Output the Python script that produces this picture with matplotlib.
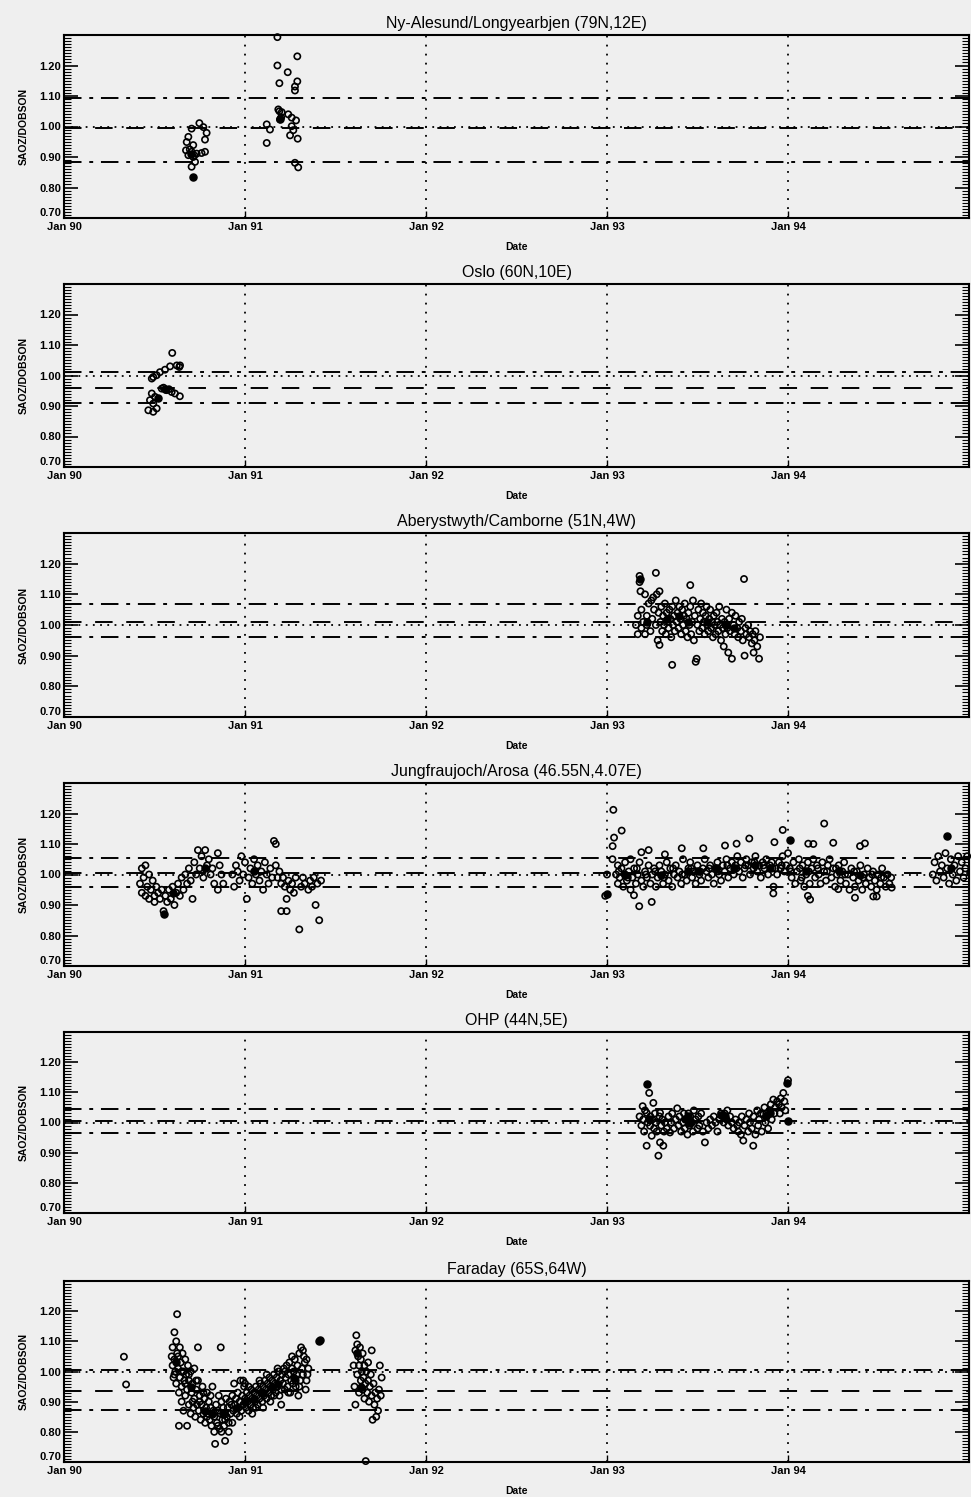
import matplotlib
matplotlib.use("Agg")
import matplotlib.pyplot as plt
from matplotlib.ticker import MultipleLocator

plt.rcParams['font.family'] = ['Liberation Sans', 'DejaVu Sans']

# station titles
titles = [
    "Ny-Alesund/Longyearbjen (79N,12E)",
    "Oslo (60N,10E)",
    "Aberystwyth/Camborne (51N,4W)",
    "Jungfraujoch/Arosa (46.55N,4.07E)",
    "OHP (44N,5E)",
    "Faraday (65S,64W)",
]

# reference lines: upper (dash-dot), mean (dashed), lower (dash-dot)
upper = [1.095, 1.012, 1.07, 1.055, 1.045, 1.005]
mean = [0.995, 0.96, 1.01, 1.005, 1.005, 0.937]
lower = [0.885, 0.91, 0.96, 0.96, 0.965, 0.873]

years = [1990, 1991, 1992, 1993, 1994]
year_labels = ["Jan 90", "Jan 91", "Jan 92", "Jan 93", "Jan 94"]

ny_alesund = [
    (1990.748, 1.011), (1990.705, 0.993), (1990.77, 0.998), (1990.788, 0.979),
    (1990.687, 0.966), (1990.779, 0.957), (1990.678, 0.949), (1990.714, 0.939),
    (1990.674, 0.922), (1990.705, 0.917), (1990.733, 0.911), (1990.76, 0.913),
    (1990.779, 0.917), (1990.687, 0.906), (1990.714, 0.900), (1990.724, 0.884),
    (1990.705, 0.868), (1990.72, 0.905), (1990.695, 0.925),
    (1991.179, 1.293), (1991.289, 1.230), (1991.179, 1.200), (1991.236, 1.178),
    (1991.19, 1.142), (1991.289, 1.148), (1991.276, 1.131), (1991.276, 1.118),
    (1991.184, 1.056), (1991.203, 1.047), (1991.239, 1.040), (1991.193, 1.023),
    (1991.258, 1.029), (1991.282, 1.020), (1991.12, 1.007), (1991.138, 0.99),
    (1991.258, 1.001), (1991.267, 0.988), (1991.249, 0.971), (1991.291, 0.960),
    (1991.12, 0.946), (1991.276, 0.881), (1991.294, 0.866), (1991.19, 1.05),
    (1991.2, 1.03),
]
ny_alesund_filled = [(1990.711, 0.835), (1991.195, 1.025), (1990.70, 0.91)]

oslo = [
    (1990.598, 1.074), (1990.586, 1.030), (1990.623, 1.033), (1990.637, 1.028),
    (1990.558, 1.019), (1990.53, 1.011), (1990.512, 1.001), (1990.493, 0.995),
    (1990.485, 0.99), (1990.54, 0.957), (1990.567, 0.952), (1990.595, 0.946),
    (1990.613, 0.941), (1990.485, 0.941), (1990.503, 0.93), (1990.475, 0.919),
    (1990.493, 0.908), (1990.466, 0.886), (1990.493, 0.881), (1990.512, 0.892),
    (1990.64, 0.932), (1990.641, 1.033), (1990.55, 0.96), (1990.58, 0.955),
]
oslo_filled = [(1990.56, 0.955), (1990.52, 0.925)]

aberystwyth = [
    (1993.16, 1.00), (1993.17, 0.97), (1993.17, 1.03), (1993.18, 1.16), (1993.18, 1.14),
    (1993.185, 1.11), (1993.19, 0.99), (1993.19, 1.05), (1993.20, 1.01), (1993.21, 0.97),
    (1993.21, 1.10), (1993.22, 1.03), (1993.22, 1.00), (1993.23, 1.07), (1993.24, 0.98),
    (1993.245, 1.08), (1993.25, 1.02), (1993.255, 1.09), (1993.26, 1.05), (1993.27, 1.17),
    (1993.27, 1.00), (1993.275, 1.10), (1993.28, 0.95), (1993.285, 1.04), (1993.29, 0.935),
    (1993.29, 1.11), (1993.295, 1.01), (1993.30, 1.06), (1993.305, 0.98), (1993.31, 1.03),
    (1993.315, 1.00), (1993.32, 1.07), (1993.325, 0.97), (1993.33, 1.04), (1993.335, 1.01),
    (1993.34, 0.99), (1993.345, 1.05), (1993.35, 1.02), (1993.355, 0.96), (1993.36, 0.87),
    (1993.36, 1.06), (1993.365, 1.00), (1993.37, 1.03), (1993.375, 0.98), (1993.38, 1.08),
    (1993.385, 1.01), (1993.39, 1.04), (1993.395, 0.99), (1993.40, 1.06), (1993.405, 1.02),
    (1993.41, 0.97), (1993.415, 1.05), (1993.42, 1.00), (1993.425, 1.03), (1993.43, 1.07),
    (1993.435, 0.98), (1993.44, 1.02), (1993.445, 0.96), (1993.45, 1.04), (1993.455, 1.00),
    (1993.46, 1.13), (1993.46, 1.06), (1993.465, 0.97), (1993.47, 1.01), (1993.475, 1.08),
    (1993.48, 0.95), (1993.485, 1.03), (1993.49, 0.88), (1993.495, 0.89), (1993.50, 1.00),
    (1993.505, 1.05), (1993.51, 0.98), (1993.515, 1.02), (1993.52, 1.07), (1993.525, 0.99),
    (1993.53, 1.04), (1993.535, 1.01), (1993.54, 0.97), (1993.545, 1.03), (1993.55, 1.06),
    (1993.555, 1.00), (1993.56, 0.98), (1993.565, 1.02), (1993.57, 1.05), (1993.575, 0.99),
    (1993.58, 1.01), (1993.585, 0.96), (1993.59, 1.03), (1993.595, 1.00), (1993.60, 0.97),
    (1993.605, 1.04), (1993.61, 1.01), (1993.615, 0.98), (1993.62, 1.06), (1993.625, 1.00),
    (1993.63, 0.95), (1993.635, 1.02), (1993.64, 0.99), (1993.645, 0.93), (1993.65, 1.01),
    (1993.655, 0.97), (1993.66, 1.05), (1993.665, 0.99), (1993.67, 0.91), (1993.675, 1.02),
    (1993.68, 0.98), (1993.69, 0.89), (1993.69, 1.04), (1993.70, 1.00), (1993.705, 0.97),
    (1993.71, 1.03), (1993.72, 0.99), (1993.725, 0.96), (1993.73, 1.01), (1993.74, 0.98),
    (1993.745, 1.02), (1993.75, 0.95), (1993.757, 1.15), (1993.76, 0.90), (1993.765, 0.99),
    (1993.77, 0.97), (1993.78, 1.00), (1993.785, 0.96), (1993.79, 0.98), (1993.80, 0.94),
    (1993.805, 0.97), (1993.81, 0.91), (1993.815, 0.95), (1993.82, 0.98), (1993.83, 0.93),
    (1993.84, 0.89), (1993.845, 0.96),
]
aberystwyth_filled = [(1993.18, 1.15), (1993.22, 1.01), (1993.33, 1.02), (1993.45, 1.01),
                      (1993.55, 1.01), (1993.66, 1.00), (1993.40, 1.03), (1993.70, 0.99)]

jungfraujoch = [
    # 1990-91
    (1990.42, 0.97), (1990.43, 1.02), (1990.43, 0.94), (1990.44, 0.99), (1990.45, 0.93),
    (1990.45, 1.03), (1990.46, 0.96), (1990.47, 0.92), (1990.47, 1.00), (1990.48, 0.95),
    (1990.49, 0.98), (1990.50, 0.93), (1990.50, 0.91), (1990.51, 0.96), (1990.52, 0.94),
    (1990.53, 0.92), (1990.54, 0.95), (1990.55, 0.88), (1990.56, 0.93), (1990.57, 0.91),
    (1990.58, 0.95), (1990.59, 0.92), (1990.60, 0.96), (1990.61, 0.90), (1990.62, 0.94),
    (1990.63, 0.97), (1990.64, 0.93), (1990.65, 0.99), (1990.66, 0.95), (1990.67, 1.00),
    (1990.68, 0.97), (1990.69, 1.02), (1990.70, 0.98), (1990.71, 0.92), (1990.72, 1.04),
    (1990.73, 1.00), (1990.74, 1.08), (1990.75, 1.02), (1990.76, 1.06), (1990.77, 0.99),
    (1990.78, 1.08), (1990.79, 1.03), (1990.80, 1.05), (1990.81, 1.00), (1990.82, 1.02),
    (1990.83, 0.97), (1990.85, 1.07), (1990.85, 0.95), (1990.86, 1.03), (1990.87, 1.00),
    (1990.88, 0.97), (1990.93, 1.00), (1990.94, 0.96), (1990.95, 1.03), (1990.96, 1.01),
    (1990.97, 0.98), (1990.98, 1.06), (1990.99, 1.00), (1991.00, 1.04), (1991.01, 0.92),
    (1991.02, 0.99), (1991.03, 1.02), (1991.04, 0.97), (1991.05, 1.05), (1991.06, 1.00),
    (1991.07, 1.03), (1991.08, 0.98), (1991.09, 1.01), (1991.10, 0.95), (1991.11, 1.04),
    (1991.12, 1.00), (1991.13, 0.97), (1991.14, 1.02), (1991.15, 0.99), (1991.16, 1.11),
    (1991.17, 1.10), (1991.17, 1.03), (1991.18, 0.99), (1991.19, 1.01), (1991.20, 0.97),
    (1991.20, 0.88), (1991.21, 0.99), (1991.22, 0.96), (1991.23, 0.88), (1991.23, 0.92),
    (1991.24, 0.98), (1991.25, 0.95), (1991.26, 0.97), (1991.27, 0.94), (1991.28, 0.99),
    (1991.30, 0.82), (1991.31, 0.96), (1991.32, 0.99), (1991.33, 0.97), (1991.35, 0.95),
    (1991.36, 0.98), (1991.37, 0.96), (1991.38, 0.99), (1991.39, 0.90), (1991.40, 0.97),
    (1991.41, 0.85), (1991.42, 0.98),
    # 1993-94
    (1992.99, 0.93), (1993.0, 1.00), (1993.03, 1.05), (1993.031, 1.093), (1993.035, 1.212),
    (1993.039, 1.121), (1993.081, 1.144),
    (1993.05, 1.00), (1993.06, 0.97), (1993.06, 1.03), (1993.07, 0.99), (1993.08, 1.02),
    (1993.09, 0.96), (1993.10, 1.00), (1993.10, 1.04), (1993.11, 0.98), (1993.12, 1.01),
    (1993.13, 0.95), (1993.13, 1.05), (1993.14, 0.99), (1993.15, 1.02), (1993.16, 0.97),
    (1993.17, 1.00), (1993.18, 1.04), (1993.19, 0.98), (1993.20, 0.96), (1993.21, 1.01),
    (1993.22, 0.99), (1993.23, 1.03), (1993.24, 0.97), (1993.25, 1.00), (1993.26, 1.02),
    (1993.27, 0.96), (1993.28, 0.99), (1993.29, 1.03), (1993.30, 1.01), (1993.31, 0.97),
    (1993.32, 1.00), (1993.33, 1.04), (1993.34, 0.98), (1993.35, 1.02), (1993.36, 0.96),
    (1993.37, 1.00), (1993.38, 1.03), (1993.39, 0.99), (1993.40, 1.01), (1993.41, 0.97),
    (1993.42, 1.05), (1993.43, 1.00), (1993.44, 0.98), (1993.45, 1.02), (1993.46, 1.04),
    (1993.47, 0.99), (1993.48, 1.01), (1993.49, 0.97), (1993.50, 1.03), (1993.51, 1.00),
    (1993.52, 0.98), (1993.53, 1.02), (1993.54, 1.05), (1993.55, 1.01), (1993.56, 0.99),
    (1993.57, 1.03), (1993.58, 1.00), (1993.59, 0.97), (1993.60, 1.02), (1993.61, 1.04),
    (1993.62, 1.00), (1993.63, 0.98), (1993.64, 1.03), (1993.65, 1.01), (1993.66, 1.05),
    (1993.67, 0.99), (1993.68, 1.02), (1993.69, 1.04), (1993.70, 1.00), (1993.71, 1.03),
    (1993.72, 1.06), (1993.73, 1.01), (1993.74, 1.04), (1993.75, 0.99), (1993.76, 1.02),
    (1993.77, 1.05), (1993.78, 1.03), (1993.79, 1.00), (1993.80, 1.04), (1993.81, 1.02),
    (1993.82, 1.06), (1993.83, 1.01), (1993.84, 1.03), (1993.85, 0.99), (1993.86, 1.04),
    (1993.87, 1.02), (1993.88, 1.05), (1993.89, 1.00), (1993.90, 1.03), (1993.91, 1.04),
    (1993.92, 0.96), (1993.93, 1.02), (1993.94, 1.00), (1993.95, 1.04), (1993.96, 1.02),
    (1993.97, 1.06), (1993.98, 1.01), (1993.99, 1.03), (1994.00, 1.07), (1994.01, 1.02),
    (1994.02, 0.99), (1994.03, 1.04), (1994.04, 0.97), (1994.05, 1.01), (1994.06, 1.05),
    (1994.07, 0.98), (1994.08, 1.03), (1994.09, 0.96), (1994.10, 1.00), (1994.11, 1.04),
    (1994.12, 0.97), (1994.13, 1.02), (1994.14, 1.05), (1994.15, 0.99), (1994.16, 1.03),
    (1994.17, 1.00), (1994.18, 0.97), (1994.19, 1.04), (1994.20, 1.01), (1994.21, 0.98),
    (1994.22, 1.03), (1994.23, 1.05), (1994.24, 0.99), (1994.25, 1.02), (1994.26, 0.96),
    (1994.27, 1.00), (1994.28, 1.03), (1994.29, 0.98), (1994.30, 1.01), (1994.31, 1.04),
    (1994.32, 0.97), (1994.33, 1.00), (1994.34, 0.95), (1994.35, 1.02), (1994.36, 0.99),
    (1994.37, 0.96), (1994.38, 1.01), (1994.39, 0.98), (1994.40, 1.03), (1994.41, 0.95),
    (1994.42, 1.00), (1994.43, 0.97), (1994.44, 1.02), (1994.45, 0.99), (1994.46, 0.96),
    (1994.47, 1.01), (1994.48, 0.98), (1994.49, 0.95), (1994.50, 1.00), (1994.51, 0.97),
    (1994.52, 1.02), (1994.53, 0.99), (1994.54, 0.96), (1994.55, 1.00), (1994.56, 0.97),
    (1994.57, 0.99),
    (1993.065, 1.01), (1993.115, 0.99), (1993.165, 1.02), (1993.215, 1.00), (1993.265, 1.01),
    (1993.315, 0.99), (1993.365, 1.02), (1993.415, 1.00), (1993.465, 1.02), (1993.515, 1.01),
    (1993.565, 1.02), (1993.615, 1.01), (1993.665, 1.03), (1993.715, 1.02), (1993.765, 1.03),
    (1993.815, 1.04), (1993.865, 1.03), (1993.915, 1.02), (1993.965, 1.03), (1994.015, 1.01),
    (1994.065, 1.02), (1994.115, 1.01), (1994.165, 1.02), (1994.215, 1.01), (1994.265, 1.02),
    (1994.315, 1.00), (1994.365, 1.01), (1994.415, 0.99), (1994.465, 1.00), (1994.515, 0.99),
    # outliers
    (1993.19, 1.073), (1993.23, 1.08), (1993.32, 1.066), (1993.413, 1.086), (1993.532, 1.086),
    (1993.652, 1.095), (1993.716, 1.101), (1993.786, 1.118), (1993.925, 1.106), (1993.971, 1.146),
    (1994.2, 1.167), (1994.112, 1.101), (1994.14, 1.10), (1994.25, 1.104), (1994.398, 1.093),
    (1994.425, 1.102), (1993.178, 0.896), (1993.247, 0.91), (1993.149, 0.932), (1993.919, 0.938),
    (1994.122, 0.918), (1994.11, 0.93), (1994.278, 0.952), (1994.37, 0.924), (1994.471, 0.928),
    (1994.49, 0.928), (1994.573, 0.957), (1994.076, 0.99),
    # late 1994
    (1994.80, 1.00), (1994.81, 1.04), (1994.82, 0.98), (1994.83, 1.06), (1994.84, 1.01),
    (1994.85, 1.03), (1994.86, 0.99), (1994.87, 1.07), (1994.88, 1.02), (1994.89, 0.97),
    (1994.90, 1.05), (1994.91, 1.00), (1994.92, 1.03), (1994.93, 0.98), (1994.94, 1.06),
    (1994.95, 1.01), (1994.96, 1.04), (1994.97, 0.99), (1994.98, 1.02), (1994.99, 1.06),
]
jungfraujoch_filled = [(1990.555, 0.87), (1993.0, 0.935), (1994.011, 1.113), (1994.88, 1.126),
                       (1993.45, 1.01), (1993.6, 1.02), (1993.82, 1.03), (1994.28, 1.01),
                       (1993.10, 1.00), (1993.30, 1.00), (1993.50, 1.01), (1993.70, 1.02),
                       (1993.90, 1.02), (1994.10, 1.01), (1994.40, 1.00), (1990.60, 0.94),
                       (1990.78, 1.02), (1991.05, 1.01), (1994.90, 1.02)]

ohp = [
    (1993.18, 1.02), (1993.19, 0.99), (1993.197, 1.054), (1993.20, 1.01), (1993.205, 0.97),
    (1993.21, 1.04), (1993.219, 1.032), (1993.219, 0.923), (1993.225, 1.00), (1993.233, 1.098),
    (1993.238, 0.989), (1993.24, 1.02), (1993.247, 0.956), (1993.25, 1.01), (1993.256, 1.065),
    (1993.26, 0.98), (1993.265, 1.03), (1993.27, 1.00), (1993.275, 0.97), (1993.284, 0.89),
    (1993.29, 1.02), (1993.293, 1.032), (1993.293, 0.934), (1993.30, 0.99), (1993.305, 1.01),
    (1993.311, 0.923), (1993.315, 0.97), (1993.32, 1.00), (1993.33, 0.98), (1993.34, 1.02),
    (1993.348, 0.967), (1993.355, 1.00), (1993.36, 1.03), (1993.37, 0.98), (1993.38, 1.01),
    (1993.388, 1.047), (1993.395, 0.99), (1993.40, 1.02), (1993.41, 0.97), (1993.42, 1.00),
    (1993.425, 1.03), (1993.43, 0.98), (1993.44, 1.01), (1993.445, 0.96), (1993.45, 1.03),
    (1993.455, 0.99), (1993.46, 1.02), (1993.47, 1.00), (1993.475, 0.97), (1993.48, 1.04),
    (1993.49, 1.01), (1993.50, 0.98), (1993.505, 1.02), (1993.51, 0.99), (1993.52, 1.03),
    (1993.53, 0.97), (1993.541, 0.934), (1993.55, 1.00), (1993.56, 0.98), (1993.57, 1.01),
    (1993.58, 0.99), (1993.59, 1.02), (1993.60, 1.00), (1993.61, 0.97), (1993.62, 1.01),
    (1993.63, 1.03), (1993.64, 1.02), (1993.645, 1.00), (1993.65, 1.03), (1993.66, 1.01),
    (1993.665, 1.04), (1993.67, 0.99), (1993.68, 1.02), (1993.69, 1.00), (1993.70, 0.98),
    (1993.71, 1.01), (1993.72, 0.99), (1993.725, 0.97), (1993.73, 1.00), (1993.74, 0.96),
    (1993.745, 1.02), (1993.753, 0.94), (1993.76, 0.99), (1993.77, 1.01), (1993.78, 0.97),
    (1993.785, 1.03), (1993.79, 1.00), (1993.80, 0.98), (1993.808, 0.923), (1993.81, 1.02),
    (1993.82, 0.96), (1993.83, 1.04), (1993.835, 0.99), (1993.84, 1.01), (1993.85, 1.03),
    (1993.855, 0.97), (1993.864, 1.027), (1993.87, 1.05), (1993.875, 1.00), (1993.88, 1.03),
    (1993.89, 0.98), (1993.90, 1.04), (1993.905, 1.06), (1993.91, 1.01), (1993.919, 1.076),
    (1993.925, 1.03), (1993.93, 1.05), (1993.94, 1.07), (1993.95, 1.06), (1993.955, 1.03),
    (1993.96, 1.08), (1993.965, 1.05), (1993.974, 1.098), (1993.98, 1.07), (1993.985, 1.04),
    (1994.0, 1.14),
]
ohp_filled = [(1993.219, 1.127), (1993.993, 1.131), (1994.0, 1.005), (1993.43, 1.01),
              (1993.45, 1.02), (1993.63, 1.025), (1993.65, 1.02), (1993.88, 1.02), (1993.90, 1.03),
              (1993.23, 1.01), (1993.46, 1.00)]

faraday = [
    (1990.331, 1.049), (1990.343, 0.957),
    (1990.595, 1.05), (1990.60, 1.02), (1990.60, 1.08), (1990.605, 0.98), (1990.61, 1.13),
    (1990.61, 1.04), (1990.615, 1.00), (1990.62, 1.10), (1990.62, 0.96), (1990.625, 1.19),
    (1990.625, 1.06), (1990.63, 1.01), (1990.635, 0.93), (1990.635, 0.82), (1990.64, 1.08),
    (1990.64, 0.98), (1990.645, 1.03), (1990.65, 0.95), (1990.65, 0.90), (1990.655, 1.06),
    (1990.66, 1.00), (1990.66, 0.87), (1990.665, 0.97), (1990.67, 1.04), (1990.67, 0.92),
    (1990.675, 0.99), (1990.68, 0.82), (1990.68, 0.94), (1990.685, 1.02), (1990.69, 0.89),
    (1990.69, 0.97), (1990.70, 1.00), (1990.70, 0.86), (1990.705, 0.93), (1990.71, 0.96),
    (1990.715, 0.88), (1990.72, 0.91), (1990.72, 1.01), (1990.725, 0.85), (1990.73, 0.94),
    (1990.735, 0.89), (1990.74, 1.08), (1990.74, 0.97), (1990.745, 0.87), (1990.75, 0.92),
    (1990.755, 0.84), (1990.76, 0.89), (1990.765, 0.95), (1990.77, 0.86), (1990.775, 0.91),
    (1990.78, 0.83), (1990.785, 0.88), (1990.79, 0.93), (1990.795, 0.86), (1990.80, 0.90),
    (1990.805, 0.84), (1990.81, 0.88), (1990.815, 0.82), (1990.82, 0.95), (1990.825, 0.87),
    (1990.83, 0.85), (1990.835, 0.76), (1990.84, 0.89), (1990.845, 0.83), (1990.85, 0.87),
    (1990.855, 0.92), (1990.86, 0.81), (1990.865, 0.86), (1990.866, 1.08), (1990.87, 0.90),
    (1990.875, 0.84), (1990.88, 0.88), (1990.885, 0.82), (1990.89, 0.77), (1990.89, 0.86),
    (1990.895, 0.91), (1990.90, 0.85), (1990.905, 0.88), (1990.91, 0.83), (1990.915, 0.90),
    (1990.92, 0.86), (1990.925, 0.89), (1990.93, 0.92), (1990.935, 0.87), (1990.94, 0.96),
    (1990.945, 0.89), (1990.95, 0.91), (1990.955, 0.86), (1990.96, 0.93), (1990.965, 0.88),
    (1990.97, 0.90), (1990.975, 0.97), (1990.98, 0.87), (1990.985, 0.92), (1990.99, 0.89),
    (1990.995, 0.95), (1991.00, 0.91), (1991.005, 0.88), (1991.01, 0.93), (1991.015, 0.90),
    (1991.02, 0.87), (1991.025, 0.92), (1991.03, 0.89), (1991.035, 0.94), (1991.04, 0.91),
    (1991.045, 0.88), (1991.05, 0.93), (1991.055, 0.90), (1991.06, 0.95), (1991.065, 0.92),
    (1991.07, 0.89), (1991.075, 0.94), (1991.08, 0.91), (1991.085, 0.96), (1991.09, 0.93),
    (1991.095, 0.90), (1991.10, 0.95), (1991.105, 0.92), (1991.11, 0.97), (1991.115, 0.94),
    (1991.12, 0.91), (1991.125, 0.96), (1991.13, 0.93), (1991.135, 0.98), (1991.14, 0.95),
    (1991.145, 0.92), (1991.15, 0.97), (1991.155, 0.94), (1991.16, 0.99), (1991.165, 0.96),
    (1991.17, 0.93), (1991.175, 0.98), (1991.18, 0.95), (1991.185, 1.00), (1991.19, 0.92),
    (1991.195, 0.97), (1991.20, 0.89), (1991.205, 0.99), (1991.21, 0.96), (1991.215, 1.01),
    (1991.22, 0.94), (1991.225, 0.98), (1991.23, 1.02), (1991.235, 0.95), (1991.24, 0.99),
    (1991.245, 1.03), (1991.25, 0.93), (1991.255, 0.97), (1991.26, 1.01), (1991.265, 0.96),
    (1991.27, 1.00), (1991.275, 1.04), (1991.28, 0.95), (1991.285, 0.99), (1991.29, 1.02),
    (1991.295, 0.92), (1991.30, 1.06), (1991.305, 0.97), (1991.31, 1.08), (1991.315, 1.01),
    (1991.32, 0.99), (1991.325, 1.05), (1991.33, 1.03), (1991.335, 0.94), (1991.34, 1.04),
    (1991.345, 0.99), (1991.35, 1.01),
    (1991.00, 0.96), (1991.02, 0.95), (1991.04, 0.86), (1991.06, 0.88), (1991.08, 0.97),
    (1991.10, 0.88), (1991.12, 0.99), (1991.14, 0.90), (1991.16, 0.92), (1991.18, 1.01),
    (1991.20, 0.94), (1991.22, 1.00), (1991.24, 0.93), (1991.26, 1.05), (1991.28, 0.97),
    (1991.30, 0.95), (1991.32, 1.07), (1991.34, 0.97), (1990.99, 0.97), (1990.97, 0.85),
    (1990.61, 0.99), (1990.63, 1.05), (1990.65, 1.00), (1990.67, 0.96), (1990.69, 0.99),
    (1990.71, 0.90), (1990.73, 0.97), (1990.75, 0.90), (1990.77, 0.93), (1990.79, 0.85),
    (1990.81, 0.92), (1990.83, 0.80), (1990.85, 0.82), (1990.87, 0.80), (1990.89, 0.84),
    (1990.91, 0.80), (1990.93, 0.83),
    (1991.60, 1.02), (1991.605, 0.95), (1991.61, 1.07), (1991.61, 0.89), (1991.615, 1.12),
    (1991.62, 1.09), (1991.62, 0.99), (1991.625, 1.05), (1991.63, 1.02), (1991.63, 0.93),
    (1991.635, 1.08), (1991.64, 0.97), (1991.64, 1.04), (1991.645, 1.00), (1991.65, 0.94),
    (1991.65, 1.06), (1991.655, 0.98), (1991.66, 1.02), (1991.66, 0.91), (1991.665, 0.96),
    (1991.667, 0.703), (1991.67, 1.00), (1991.675, 0.93), (1991.68, 0.97), (1991.68, 1.03),
    (1991.685, 0.90), (1991.69, 0.95), (1991.695, 0.99), (1991.70, 1.07), (1991.70, 0.92),
    (1991.705, 0.84), (1991.71, 0.96), (1991.715, 0.89), (1991.72, 0.93), (1991.725, 0.85),
    (1991.73, 0.91), (1991.735, 0.87), (1991.74, 0.94), (1991.745, 1.02), (1991.75, 0.92),
    (1991.755, 0.98),
]
faraday_filled = [(1991.41, 1.10), (1991.415, 1.105), (1990.62, 1.03), (1990.78, 0.87),
                  (1990.88, 0.86), (1991.05, 0.91), (1991.18, 0.96), (1991.64, 0.95),
                  (1990.70, 0.95), (1990.95, 0.88), (1991.10, 0.93), (1991.27, 0.98),
                  (1990.82, 0.86), (1991.00, 0.90), (1991.15, 0.95), (1991.62, 1.06)]

panels = [
    (ny_alesund, ny_alesund_filled),
    (oslo, oslo_filled),
    (aberystwyth, aberystwyth_filled),
    (jungfraujoch, jungfraujoch_filled),
    (ohp, ohp_filled),
    (faraday, faraday_filled),
]

W, H = 971, 1497
fig = plt.figure(figsize=(W / 100, H / 100), dpi=100, facecolor='#efefef')

tops = [35, 284, 533, 783, 1032, 1281]
bottoms = [218, 467, 717, 966, 1213, 1462]
left, right = 64, 969

for i, (pts, filled) in enumerate(panels):
    ax = fig.add_axes([left / W, 1 - bottoms[i] / H, (right - left) / W,
                       (bottoms[i] - tops[i]) / H])
    ax.set_facecolor('#efefef')
    ax.set_xlim(1990, 1995)
    ax.set_ylim(0.70, 1.30)

    for yr in years[1:]:
        ax.axvline(yr, color='k', lw=1.3, ls=(0, (1, 4)), zorder=1)
    ax.axhline(upper[i], color='k', lw=1.4, ls=(0, (9, 4, 2, 4)), zorder=1)
    ax.axhline(lower[i], color='k', lw=1.4, ls=(0, (9, 4, 2, 4)), zorder=1)
    ax.axhline(mean[i], color='k', lw=1.4, ls=(0, (9, 7)), zorder=1)
    ax.axhline(1.0, color='k', lw=1.3, ls=(0, (1, 3)), zorder=1)

    xs = [p[0] for p in pts]
    ys = [p[1] for p in pts]
    ax.scatter(xs, ys, s=20, facecolors='none', edgecolors='k', linewidths=1.2,
               zorder=3, clip_on=False)
    fx = [p[0] for p in filled]
    fy = [p[1] for p in filled]
    ax.scatter(fx, fy, s=26, color='k', zorder=3)

    ax.set_xticks(years)
    ax.set_xticklabels(year_labels)
    ax.set_yticks([0.70, 0.80, 0.90, 1.00, 1.10, 1.20])
    ax.set_yticklabels(["0.70", "0.80", "0.90", "1.00", "1.10", "1.20"])
    ax.yaxis.set_minor_locator(MultipleLocator(0.01))
    ax.tick_params(axis='y', which='major', direction='in', length=10, width=1.2,
                   left=True, right=True, labelsize=8, pad=2)
    ax.tick_params(axis='y', which='minor', direction='in', length=5, width=0.8,
                   left=True, right=True)
    ax.tick_params(axis='x', which='major', direction='in', length=5, width=1,
                   labelsize=8, pad=3)
    for lbl in ax.get_xticklabels() + ax.get_yticklabels():
        lbl.set_fontweight('bold')
    ax.get_yticklabels()[0].set_verticalalignment('bottom')
    for sp in ax.spines.values():
        sp.set_linewidth(1.5)

    ax.set_title(titles[i], fontsize=11.5, pad=5)
    ax.set_ylabel("SAOZ/DOBSON", fontsize=7.5, labelpad=8, fontweight='bold')
    ax.set_xlabel("Date", fontsize=7.5, labelpad=7, fontweight='bold')

fig.savefig("out.png", dpi=100, facecolor=fig.get_facecolor())
